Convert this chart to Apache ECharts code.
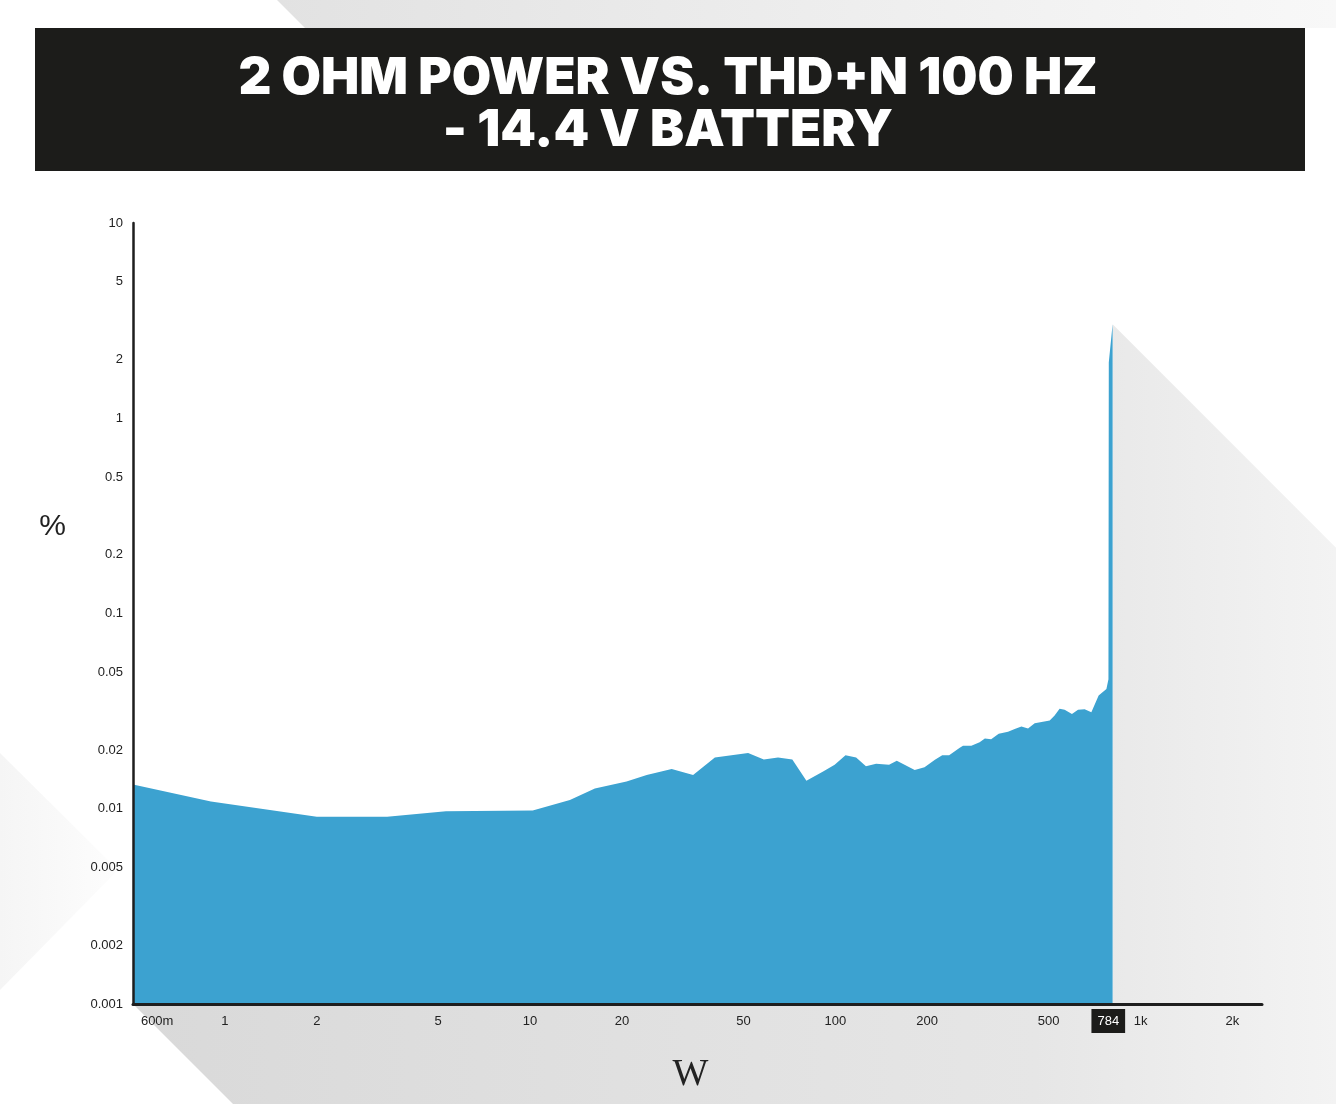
<!DOCTYPE html>
<html><head><meta charset="utf-8">
<script src="https://cdn.jsdelivr.net/npm/echarts@6/dist/echarts.min.js"></script>
<style>html,body{margin:0;padding:0;background:#fff}#c{width:1336px;height:1104px}</style>
</head><body><div id="c"></div>
<script>
// ---- data ----
const titleLines = ['2 OHM POWER VS. THD+N 100 HZ', '- 14.4 V BATTERY'];
const xName = 'W';
const yName = '%';
const powerW = [0.5, 0.9, 2.0, 3.4, 5.3, 10.2, 13.5, 16.3, 20.7, 24.1, 29.1, 34.2, 40.3, 51.8, 58.3, 64.9, 72.3, 80.4, 91.2, 99.5,
  108, 117, 126, 136, 150, 159, 182, 196, 212, 224, 236, 255, 262, 279, 297, 309, 324, 343, 368, 387,
  407, 428, 450, 479, 504, 523, 543, 564, 596, 624, 656, 690, 729, 773, 785, 787, 810];
const thdPct = [0.0133, 0.0109, 0.0091, 0.0091, 0.0097, 0.0098, 0.0111, 0.0127, 0.0138, 0.0149, 0.0160, 0.0149, 0.0183, 0.0193, 0.0179, 0.0183, 0.0179, 0.0139, 0.0155, 0.0168,
  0.0188, 0.0183, 0.0165, 0.0170, 0.0168, 0.0176, 0.0158, 0.0163, 0.0178, 0.0188, 0.0188, 0.0205, 0.0210, 0.0210, 0.0219, 0.0229, 0.0227, 0.0242, 0.0248, 0.0256,
  0.0264, 0.0258, 0.0274, 0.0279, 0.0283, 0.0300, 0.0325, 0.0321, 0.0306, 0.0321, 0.0323, 0.0312, 0.0380, 0.0411, 0.0460, 1.93, 3.03];
const xTicks = [0.6, 1, 2, 5, 10, 20, 50, 100, 200, 500, 784, 1000, 2000];
const xHighlight = 784;
const yTicks = [0.001, 0.002, 0.005, 0.01, 0.02, 0.05, 0.1, 0.2, 0.5, 1, 2, 5, 10];
const xRange = [0.5, 2500];
const yRange = [0.001, 10];

const W = 1336, H = 1104;
const chart = echarts.init(document.getElementById('c'), null, {renderer: 'canvas'});
const seriesData = powerW.map((p, i) => [p, thdPct[i]]);
const clean = v => parseFloat(Number(v).toPrecision(6));
const labelPad = [6, 6, 5, 6];

const option = {
  backgroundColor: '#ffffff',
  animation: false,
  title: {
    text: titleLines.join('\n'),
    left: 'center', top: 48,
    textStyle: {color: '#ffffff', fontFamily: 'Inter', fontWeight: 900, fontSize: 51, lineHeight: 52},
    z: 10
  },
  grid: {left: 133, right: W - 1262, top: 223, bottom: H - 1004, containLabel: false, outerBoundsMode: 'none'},
  xAxis: {
    type: 'log', logBase: 10, min: xRange[0], max: xRange[1], z: 5,
    name: xName, nameLocation: 'middle', nameGap: 52,
    nameTextStyle: {fontFamily: 'Liberation Serif', fontSize: 38, color: '#222', padding: [0, 14, 0, 0]},
    axisLine: {show: true, lineStyle: {color: '#1e1e1e', width: 3}},
    axisTick: {show: false},
    splitLine: {show: false},
    minorSplitLine: {show: false},
    axisLabel: {
      customValues: xTicks, margin: 5, color: '#222', fontSize: 13, fontFamily: 'Liberation Sans',
      formatter: v => {
        v = clean(v);
        if (v === xHighlight) return '{hl|' + v + '}';
        if (v < 1) return '{n|' + clean(v * 1000) + 'm}';
        if (v >= 1000) return '{n|' + clean(v / 1000) + 'k}';
        return '{n|' + v + '}';
      },
      rich: {
        n: {color: '#222', fontSize: 13, fontFamily: 'Liberation Sans', padding: labelPad},
        hl: {backgroundColor: '#1c1c1a', color: '#ffffff', fontSize: 13, fontFamily: 'Liberation Sans', padding: labelPad}
      }
    }
  },
  yAxis: {
    type: 'log', logBase: 10, min: yRange[0], max: yRange[1], z: 5,
    name: '{p|' + yName + '}', nameLocation: 'middle', nameGap: 67, nameRotate: 0,
    nameTextStyle: {
      fontFamily: 'Liberation Sans', fontSize: 30, color: '#222',
      rich: {p: {fontFamily: 'Liberation Sans', fontSize: 30, color: '#222', padding: [0, 0, 174, 0]}}
    },
    axisLine: {show: true, lineStyle: {color: '#1e1e1e', width: 2.5}},
    axisTick: {show: false},
    splitLine: {show: false},
    axisLabel: {
      customValues: yTicks, margin: 10, color: '#222', fontSize: 13, fontFamily: 'Liberation Sans',
      formatter: v => String(clean(v))
    }
  },
  series: [{
    type: 'line', data: seriesData, showSymbol: false, symbol: 'none',
    lineStyle: {width: 0}, z: 2,
    areaStyle: {color: '#3ca2d0', opacity: 1, origin: 'start'}
  }]
};
chart.setOption(option);

// decorative long shadows, anchored to the chart through its own scales
const last = seriesData[seriesData.length - 1];
const peak = chart.convertToPixel({gridIndex: 0}, last);
const corner = chart.convertToPixel({gridIndex: 0}, [xRange[0], yRange[0]]);
const lg = (stops) => new echarts.graphic.LinearGradient(0, 0, 1, 0, stops);
chart.setOption({
  graphic: [
    {type: 'polygon', z: -10, silent: true,
      shape: {points: [[277, 0], [W, 0], [W, 28], [305, 28]]},
      style: {fill: lg([{offset: 0, color: '#e2e2e2'}, {offset: 1, color: '#f8f8f8'}])}},
    {type: 'polygon', z: -10, silent: true,
      shape: {points: [[0, 753], [118, 870], [0, 990]]},
      style: {fill: lg([{offset: 0, color: '#f5f5f5'}, {offset: 1, color: '#fdfdfd'}])}},
    {type: 'polygon', z: -10, silent: true,
      shape: {points: [
        [peak[0], peak[1]], [W, peak[1] + (W - peak[0])], [W, H],
        [corner[0] + (H - corner[1]), H], [corner[0], corner[1]], [peak[0], corner[1]]
      ]},
      style: {fill: lg([{offset: 0, color: '#d9d9d9'}, {offset: 0.75, color: '#e6e6e6'}, {offset: 1, color: '#f3f3f3'}])}},
    {type: 'rect', z: -5, silent: true,
      shape: {x: 35, y: 28, width: 1270, height: 143},
      style: {fill: '#1c1c1a'}}
  ]
});
</script></body></html>
